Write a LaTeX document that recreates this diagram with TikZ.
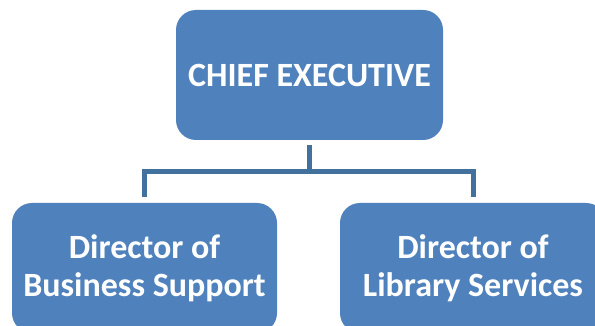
\documentclass[tikz,border=0pt]{standalone}
\usepackage{fontspec}
\setmainfont{Carlito}
\definecolor{boxblue}{HTML}{4F81BD}
\definecolor{lineblue}{HTML}{41719C}
\begin{document}
\begin{tikzpicture}[x=1pt,y=-1pt,
  orgbox/.style={fill=boxblue, rounded corners=20pt, text=white,
    font=\bfseries\fontsize{34}{38}\selectfont, align=center, inner sep=0pt,
    minimum width=266pt, minimum height=130pt},
  conn/.style={draw=lineblue, line width=5pt, shorten <=5pt, shorten >=6pt}]
\useasboundingbox (0,0) rectangle (595,326);
\clip (0,0) rectangle (595,326);
\fill[white] (0,0) rectangle (595,326);
\node[orgbox, minimum width=267pt] (ceo) at (309.5,75) {CHIEF EXECUTIVE};
\node[orgbox, minimum width=265pt] (dbs) at (144.5,268) {Director of\\Business Support};
\node[orgbox] (dls) at (473,268) {Director of\\Library Services};
\coordinate (bus) at (0,172);
\draw[conn] (ceo.south) -- (ceo.south |- bus) -| (dbs.north);
\draw[conn] (ceo.south) -- (ceo.south |- bus) -| (dls.north);
\end{tikzpicture}
\end{document}
